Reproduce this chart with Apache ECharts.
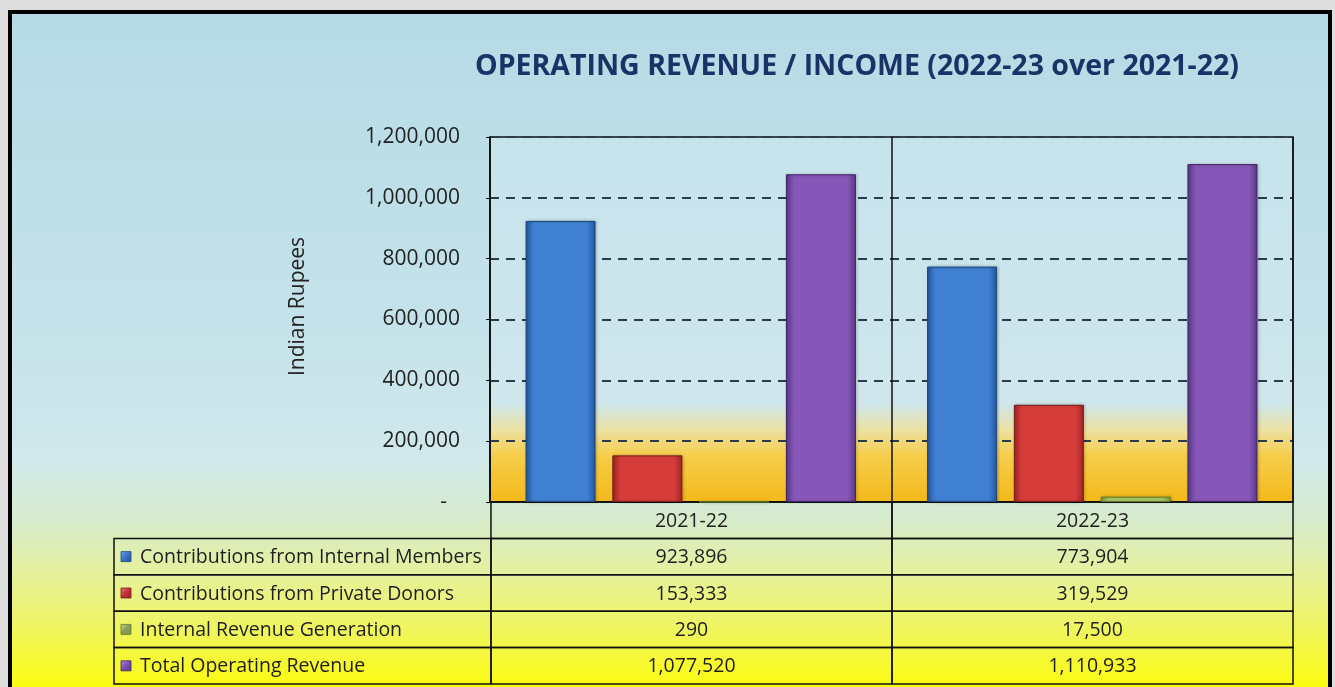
<!DOCTYPE html>
<html>
<head>
<meta charset="utf-8">
<script src="https://cdn.jsdelivr.net/npm/echarts@6/dist/echarts.min.js"></script>
<style>
  html, body { margin: 0; padding: 0; background: #dedede; width: 1335px; height: 687px; overflow: hidden; }
  #frame { position: absolute; left: 8px; top: 10px; width: 1324px; height: 677px; box-sizing: border-box;
           border-left: 4px solid #000; border-top: 4px solid #000; border-right: 4px solid #000; }
  #chart { width: 1316px; height: 673px; }
</style>
</head>
<body>
<div id="frame"><div id="chart"></div></div>
<script>
// ---- data ----
const categories = ['2021-22', '2022-23'];
const seriesNames = [
  'Contributions from Internal Members',
  'Contributions from Private Donors',
  'Internal Revenue Generation',
  'Total Operating Revenue'
];
const internalMembers = [923896, 773904];
const privateDonors = [153333, 319529];
const internalRevenue = [290, 17500];
const totalRevenue = [1077520, 1110933];
const yMin = 0, yMax = 1200000, yInterval = 200000;
const titleText = 'OPERATING REVENUE / INCOME (2022-23 over 2021-22)';
const yAxisName = 'Indian Rupees';

const seriesValues = [internalMembers, privateDonors, internalRevenue, totalRevenue];

// ---- styles ----
const FONT = 'Open Sans';
const TABLE_FONT_SIZE = 19.5;
const palettes = [
  { edge: '#24569c', mid: '#3f80d2', top: '#6aa8ea', sq: '#3a6fc4', border: '#1d4880' },
  { edge: '#a02424', mid: '#d63d3a', top: '#ee7a72', sq: '#c0303a', border: '#7a1a1a' },
  { edge: '#7f9a40', mid: '#a8c868', top: '#c8e090', sq: '#8a9a5a', border: '#5e7a2a' },
  { edge: '#5a3a88', mid: '#8656b8', top: '#b891e0', sq: '#7a4fb0', border: '#3f2466' }
];
function barGradient(p) {
  return new echarts.graphic.LinearGradient(0, 0, 1, 0, [
    { offset: 0, color: p.edge },
    { offset: 0.12, color: p.mid },
    { offset: 0.5, color: p.mid },
    { offset: 0.88, color: p.mid },
    { offset: 1, color: p.edge }
  ]);
}
const fmt = v => v.toLocaleString('en-US');

// ---- table cells built from the data ----
const LEG_X0 = -0.94;
const cells = [];
categories.forEach((c, ci) => cells.push({ x0: ci, x1: ci + 1, row: 0, text: c }));
seriesNames.forEach((name, si) => {
  cells.push({ x0: LEG_X0, x1: 0, row: si + 1, text: name, legend: si });
  categories.forEach((c, ci) => cells.push({ x0: ci, x1: ci + 1, row: si + 1, text: fmt(seriesValues[si][ci]) }));
});

const chart = echarts.init(document.getElementById('chart'), null, { renderer: 'canvas' });

const option = {
  backgroundColor: new echarts.graphic.LinearGradient(0, 0, 0, 1, [
    { offset: 0, color: '#b6dbe6' },
    { offset: 0.45, color: '#c4e2ea' },
    { offset: 0.66, color: '#d0e8ec' },
    { offset: 0.75, color: '#d6ebcc' },
    { offset: 0.82, color: '#e4f0a4' },
    { offset: 0.9, color: '#eef46a' },
    { offset: 1, color: '#fbfb10' }
  ]),
  animation: false,
  title: {
    text: titleText,
    left: 840,
    top: 33,
    textAlign: 'center',
    textStyle: { fontFamily: FONT, fontSize: 28.5, fontWeight: 'bold', color: '#1b3266' }
  },
  grid: [
    {
      left: 478, top: 123, width: 803, height: 365,
      show: true, borderColor: '#111', borderWidth: 1.5,
      backgroundColor: new echarts.graphic.LinearGradient(0, 0, 0, 1, [
        { offset: 0, color: '#c6e3ec' },
        { offset: 0.73, color: '#cfe6ec' },
        { offset: 0.8, color: '#ece2a4' },
        { offset: 0.87, color: '#f6ce4c' },
        { offset: 1, color: '#f4b818' }
      ])
    },
    { left: 102, top: 488, width: 1179, height: 182 }
  ],
  xAxis: [
    {
      type: 'category', gridIndex: 0, data: categories,
      axisLine: { show: true, lineStyle: { color: '#111', width: 1.5 } },
      axisTick: { show: false },
      axisLabel: { show: false },
      splitLine: { show: true, lineStyle: { color: '#111', width: 1.5 } }
    },
    { type: 'value', gridIndex: 1, min: LEG_X0, max: 2, show: false }
  ],
  yAxis: [
    {
      type: 'value', gridIndex: 0, min: yMin, max: yMax, interval: yInterval,
      name: yAxisName, nameLocation: 'middle', nameGap: 181, nameRotate: 90,
      nameTextStyle: { fontFamily: FONT, fontSize: 21, color: '#222', padding: [0, 0, 0, 26] },
      axisLine: { show: true, lineStyle: { color: '#111', width: 1.5 } },
      axisTick: { show: true, length: 4, lineStyle: { color: '#111' } },
      axisLabel: {
        margin: 30, fontFamily: FONT, fontSize: 21, color: '#222',
        formatter: v => v === 0 ? '{d|-}' : fmt(v),
        rich: { d: { fontFamily: FONT, fontSize: 21, color: '#222', padding: [0, 13, 0, 0] } }
      },
      splitLine: { show: true, lineStyle: { color: '#2b3b4b', width: 2, type: [9, 7] } }
    },
    { type: 'value', gridIndex: 1, min: 0, max: 5, inverse: true, show: false }
  ],
  series: seriesNames.map((name, si) => ({
    name: name,
    type: 'bar',
    xAxisIndex: 0, yAxisIndex: 0,
    data: seriesValues[si],
    barWidth: 70,
    barGap: '24%',
    itemStyle: {
      color: barGradient(palettes[si]),
      borderColor: palettes[si].border,
      borderWidth: 1,
      shadowColor: 'rgba(0,0,0,0.25)', shadowBlur: 3, shadowOffsetX: 1, shadowOffsetY: 0
    }
  })).concat([{
    type: 'custom',
    xAxisIndex: 1, yAxisIndex: 1,
    silent: true,
    data: cells.map(c => [c.x0, c.row]),
    renderItem: function (params, api) {
      const c = cells[params.dataIndex];
      const p0 = api.coord([c.x0, c.row]);
      const p1 = api.coord([c.x1, c.row + 1]);
      const x = p0[0], y = p0[1], w = p1[0] - p0[0], h = p1[1] - p0[1];
      const font = TABLE_FONT_SIZE + 'px "' + FONT + '"';
      const children = [{
        type: 'rect',
        shape: { x: x, y: y, width: w, height: h },
        style: { fill: 'transparent', stroke: '#111', lineWidth: 1.5 }
      }];
      if (c.legend !== undefined) {
        const pal = palettes[c.legend];
        children.push({
          type: 'rect',
          shape: { x: x + 7, y: y + h / 2 - 5, width: 10, height: 10 },
          style: {
            fill: new echarts.graphic.LinearGradient(0, 0, 1, 1, [
              { offset: 0, color: pal.top }, { offset: 0.5, color: pal.sq }, { offset: 1, color: pal.edge }
            ]),
            stroke: pal.border, lineWidth: 0.8
          }
        });
        children.push({
          type: 'text',
          style: {
            text: c.text, x: x + 26, y: y + h / 2 + 1,
            textAlign: 'left', textVerticalAlign: 'middle',
            font: font, fill: '#1e1e1e'
          }
        });
      } else {
        children.push({
          type: 'text',
          style: {
            text: c.text, x: x + w / 2, y: y + h / 2 + 1,
            textAlign: 'center', textVerticalAlign: 'middle',
            font: font, fill: '#1e1e1e'
          }
        });
      }
      return { type: 'group', children: children };
    }
  }])
};
chart.setOption(option);
</script>
</body>
</html>
